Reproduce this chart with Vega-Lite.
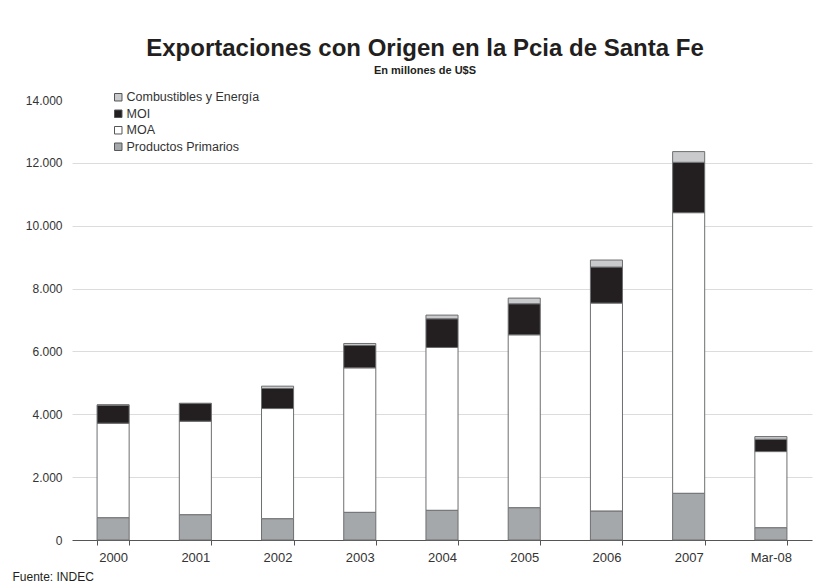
{
  "$schema": "https://vega.github.io/schema/vega-lite/v6.json",
  "autosize": {"type": "none"},
  "padding": {"left": 72, "top": 100, "right": 16, "bottom": 43},
  "width": 740,
  "height": 440,
  "background": "white",
  "title": {
    "text": "Exportaciones con Origen en la Pcia de Santa Fe",
    "subtitle": "En millones de U$S",
    "anchor": "middle",
    "dx": -17,
    "offset": 15,
    "font": "Liberation Sans",
    "fontSize": 24,
    "fontWeight": "bold",
    "color": "#231f20",
    "subtitleFont": "Liberation Sans",
    "subtitleFontSize": 11,
    "subtitleFontWeight": "bold",
    "subtitleColor": "#231f20",
    "subtitlePadding": 4
  },
  "data": {
    "values": [
      {"year": "2000", "cat": "Productos Primarios", "value": 710},
      {"year": "2000", "cat": "MOA", "value": 3007},
      {"year": "2000", "cat": "MOI", "value": 573},
      {"year": "2000", "cat": "Combustibles y Energía", "value": 10},
      {"year": "2001", "cat": "Productos Primarios", "value": 806},
      {"year": "2001", "cat": "MOA", "value": 2974},
      {"year": "2001", "cat": "MOI", "value": 562},
      {"year": "2001", "cat": "Combustibles y Energía", "value": 10},
      {"year": "2002", "cat": "Productos Primarios", "value": 679},
      {"year": "2002", "cat": "MOA", "value": 3504},
      {"year": "2002", "cat": "MOI", "value": 637},
      {"year": "2002", "cat": "Combustibles y Energía", "value": 75},
      {"year": "2003", "cat": "Productos Primarios", "value": 881},
      {"year": "2003", "cat": "MOA", "value": 4597},
      {"year": "2003", "cat": "MOI", "value": 711},
      {"year": "2003", "cat": "Combustibles y Energía", "value": 64},
      {"year": "2004", "cat": "Productos Primarios", "value": 946},
      {"year": "2004", "cat": "MOA", "value": 5180},
      {"year": "2004", "cat": "MOI", "value": 913},
      {"year": "2004", "cat": "Combustibles y Energía", "value": 117},
      {"year": "2005", "cat": "Productos Primarios", "value": 1029},
      {"year": "2005", "cat": "MOA", "value": 5500},
      {"year": "2005", "cat": "MOI", "value": 988},
      {"year": "2005", "cat": "Combustibles y Energía", "value": 180},
      {"year": "2006", "cat": "Productos Primarios", "value": 924},
      {"year": "2006", "cat": "MOA", "value": 6614},
      {"year": "2006", "cat": "MOI", "value": 1147},
      {"year": "2006", "cat": "Combustibles y Energía", "value": 223},
      {"year": "2007", "cat": "Productos Primarios", "value": 1487},
      {"year": "2007", "cat": "MOA", "value": 8928},
      {"year": "2007", "cat": "MOI", "value": 1603},
      {"year": "2007", "cat": "Combustibles y Energía", "value": 340},
      {"year": "Mar-08", "cat": "Productos Primarios", "value": 392},
      {"year": "Mar-08", "cat": "MOA", "value": 2421},
      {"year": "Mar-08", "cat": "MOI", "value": 393},
      {"year": "Mar-08", "cat": "Combustibles y Energía", "value": 85}
    ]
  },
  "transform": [
    {"calculate": "indexof(['Productos Primarios','MOA','MOI','Combustibles y Energía'], datum.cat)", "as": "stackOrder"}
  ],
  "mark": {"type": "bar", "stroke": "#6d6e70", "strokeWidth": 1},
  "encoding": {
    "x": {
      "field": "year",
      "type": "ordinal",
      "sort": null,
      "scale": {"paddingInner": 0.61, "paddingOuter": 0.305},
      "axis": {
        "title": "Fuente: INDEC",
        "titleAnchor": "start",
        "titleAlign": "left",
        "titleX": -60,
        "titleY": 40,
        "titleBaseline": "alphabetic",
        "titleFont": "Liberation Sans",
        "titleFontSize": 12,
        "titleFontWeight": "normal",
        "titleColor": "#231f20",
        "labelAngle": 0,
        "labelFont": "Liberation Sans",
        "labelFontSize": 13,
        "labelColor": "#333333",
        "labelPadding": 6,
        "tickBand": "extent",
        "tickSize": 5,
        "tickColor": "#555555",
        "domainColor": "#555555",
        "grid": false
      }
    },
    "y": {
      "field": "value",
      "type": "quantitative",
      "stack": "zero",
      "scale": {"domain": [0, 14000], "nice": false},
      "axis": {
        "title": null,
        "values": [0, 2000, 4000, 6000, 8000, 10000, 12000, 14000],
        "labelExpr": "replace(format(datum.value, ','), ',', '.')",
        "labelFont": "Liberation Sans",
        "labelFontSize": 12,
        "labelColor": "#333333",
        "labelPadding": 10,
        "ticks": false,
        "domain": false,
        "grid": true,
        "gridColor": {"condition": {"test": "datum.value === 14000 || datum.value === 0", "value": "transparent"}, "value": "#dcdcdc"},
        "gridWidth": 1
      }
    },
    "color": {
      "field": "cat",
      "type": "nominal",
      "scale": {
        "domain": ["Combustibles y Energía", "MOI", "MOA", "Productos Primarios"],
        "range": ["#c9cacb", "#231f20", "#ffffff", "#a5a8aa"]
      },
      "legend": {
        "title": null,
        "orient": "none",
        "legendX": 40,
        "legendY": -9,
        "symbolType": "square",
        "symbolSize": 56,
        "symbolStrokeColor": "#555555",
        "symbolStrokeWidth": 1,
        "labelFont": "Liberation Sans",
        "labelFontSize": 12.5,
        "labelColor": "#333333",
        "labelOffset": 2,
        "rowPadding": 3.5
      }
    },
    "order": {"field": "stackOrder", "type": "quantitative"}
  },
  "config": {
    "view": {"stroke": null}
  }
}
